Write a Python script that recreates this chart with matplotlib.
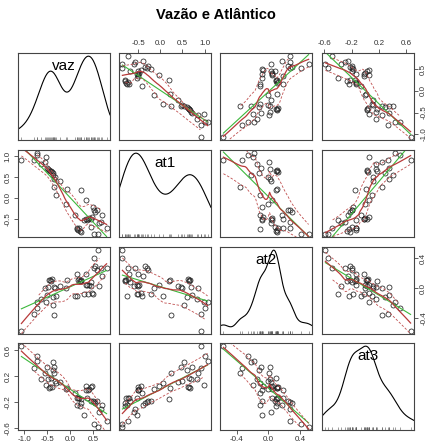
import numpy as np
import matplotlib.pyplot as plt

plt.rcParams["font.family"] = ["Liberation Sans", "DejaVu Sans"]

vaz = [-1.06, -0.78, -0.72, -0.71, -0.64, -0.55, -0.53, -0.51, -0.49, -0.45,
       -0.43, -0.42, -0.40, -0.38, -0.36, -0.35, -0.34, -0.33, -0.31, -0.22,
       -0.09, -0.07, 0.12, 0.15, 0.16, 0.18, 0.20, 0.22, 0.24, 0.25,
       0.30, 0.34, 0.36, 0.38, 0.40, 0.42, 0.45, 0.46, 0.48, 0.50,
       0.52, 0.53, 0.55, 0.58, 0.61, 0.63, 0.67, 0.70, 0.80]
at1 = [0.91, 0.91, 1.02, 1.07, 0.82, 0.86, 0.98, 0.72, 0.70, 0.67,
       0.65, 0.64, 0.62, 0.60, 0.54, 0.46, 0.25, 0.50, 0.06, 0.40,
       -0.15, 0.21, -0.41, -0.71, -0.75, -0.78, -0.73, -0.80, -0.81, 0.20,
       -0.52, -0.50, -0.04, -0.52, -0.50, -0.48, -0.50, -0.69, -0.45, -0.21,
       -0.86, -0.30, -0.35, -0.28, -0.86, -0.60, -0.57, -0.40, -0.73]
at2 = [-0.57, -0.34, -0.26, -0.18, -0.15, 0.01, -0.19, -0.09, 0.02, 0.11,
       0.11, 0.10, 0.12, -0.12, -0.22, 0.02, -0.36, 0.00, -0.10, 0.03,
       0.00, 0.11, -0.10, 0.19, -0.10, 0.11, 0.12, 0.10, 0.11, 0.10,
       -0.08, 0.19, 0.04, 0.05, -0.08, 0.04, 0.03, 0.08, -0.07, -0.08,
       0.41, 0.27, 0.30, 0.25, 0.51, 0.03, 0.27, 0.17, 0.27]
at3 = [0.66, 0.33, 0.51, 0.44, 0.15, 0.25, 0.06, 0.34, 0.15, 0.02,
       0.03, 0.17, 0.04, 0.29, 0.41, 0.34, 0.25, 0.12, 0.10, 0.11,
       0.00, 0.01, -0.06, -0.14, -0.24, -0.14, -0.13, -0.26, -0.22, -0.15,
       -0.40, -0.02, 0.05, -0.13, -0.02, 0.00, 0.03, -0.19, 0.05, -0.18,
       -0.54, -0.20, -0.22, -0.19, -0.58, -0.35, -0.30, -0.25, -0.49]

names = ["vaz", "at1", "at2", "at3"]
tick_values = [[-1.0, -0.5, 0.0, 0.5],
               [-0.5, 0.0, 0.5, 1.0],
               [-0.4, 0.0, 0.4],
               [-0.6, -0.2, 0.2, 0.6]]

data = [np.array(v) for v in (vaz, at1, at2, at3)]


def local_fit(x, y, x0, span, degree):
    k = int(np.ceil(span * len(x)))
    d = np.abs(x - x0)
    idx = np.argsort(d)[:k]
    h = d[idx].max() * 1.0001 + 1e-12
    w = (1 - (d[idx] / h) ** 3) ** 3
    if degree == 0:
        return np.sum(w * y[idx]) / np.sum(w)
    coef = np.polyfit(x[idx], y[idx], 1, w=np.sqrt(w))
    return np.polyval(coef, x0)


def loess(x, y, grid, span=0.5, degree=1):
    return np.array([local_fit(x, y, g, span, degree) for g in grid])


def kde(x, grid):
    n = len(x)
    iqr = np.subtract(*np.percentile(x, [75, 25]))
    bw = 0.9 * min(np.std(x, ddof=1), iqr / 1.34) * n ** -0.2
    z = (grid[:, None] - x[None, :]) / bw
    return np.exp(-0.5 * z ** 2).sum(axis=1) / (n * bw * np.sqrt(2 * np.pi))


def padded(v):
    lo, hi = v.min(), v.max()
    p = 0.04 * (hi - lo)
    return lo - p, hi + p


W, H = 432, 448
lefts = [18, 119, 220, 322]
tops = [53, 150, 247, 343]
pw, ph = 92, 87

fig = plt.figure(figsize=(W / 100, H / 100), dpi=100)
fig.text(0.5, 1 - 15 / H, "Vazão e Atlântico", ha="center", va="center",
         fontsize=10.5, fontweight="bold")

green = "#3cb83c"
red = "#b83a3a"
frame = "#444444"

for r in range(4):
    for c in range(4):
        ax = fig.add_axes([lefts[c] / W, 1 - (tops[r] + ph) / H, pw / W, ph / H])
        for s in ax.spines.values():
            s.set_color(frame)
            s.set_linewidth(0.8)
        x = data[c]
        xlim = padded(x)
        ax.set_xlim(xlim)
        if r == c:
            grid = np.linspace(xlim[0], xlim[1], 200)
            dens = kde(x, grid)
            top = dens.max()
            ax.plot(grid, dens, color="black", lw=0.8)
            ax.set_ylim(-0.06 * top, 1.04 * top)
            ax.vlines(x, -0.06 * top, -0.06 * top + 0.035 * 1.1 * top,
                      color="#555555", lw=0.4)
            ax.text(0.5, 0.85, names[c], transform=ax.transAxes, ha="center",
                    va="center", fontsize=11)
        else:
            y = data[r]
            ax.set_ylim(padded(y))
            ax.plot(x, y, "o", mfc="none", mec="#222222", ms=3.6, mew=0.55)
            grid = np.linspace(x.min(), x.max(), 60)
            b, a = np.polyfit(x, y, 1)
            ax.plot(grid, a + b * grid, color=green, lw=0.8)
            fit = loess(x, y, grid)
            res = y - loess(x, y, x)
            pos = res > 0
            ax.plot(grid, fit, color=red, lw=0.9)
            for mask, sign in ((pos, 1), (~pos, -1)):
                xs, rs = x[mask], res[mask] ** 2
                g = grid[(grid >= xs.min()) & (grid <= xs.max())]
                spread = np.sqrt(loess(xs, rs, g, degree=0))
                base = loess(x, y, g)
                ax.plot(g, base + sign * spread, color="#c05050", lw=0.6,
                        ls=(0, (3, 2)))

        ax.tick_params(length=3, width=0.6, color=frame, labelsize=5.8,
                       labelcolor="#333333", pad=1.5, direction="out")
        show_top = r == 0 and c % 2 == 1
        show_bottom = r == 3 and c % 2 == 0
        show_left = c == 0 and r % 2 == 1
        show_right = c == 3 and r % 2 == 0
        ax.tick_params(axis="x", top=show_top, labeltop=show_top,
                       bottom=show_bottom, labelbottom=show_bottom)
        ax.tick_params(axis="y", left=show_left, labelleft=show_left,
                       right=show_right, labelright=show_right)
        ax.set_xticks(tick_values[c])
        ax.set_xticklabels([f"{t:.1f}" for t in tick_values[c]])
        if r != c:
            ax.set_yticks(tick_values[r])
            ax.set_yticklabels([f"{t:.1f}" for t in tick_values[r]],
                               rotation=90, va="center")
        else:
            ax.set_yticks([])

fig.savefig("out.png", dpi=100)
